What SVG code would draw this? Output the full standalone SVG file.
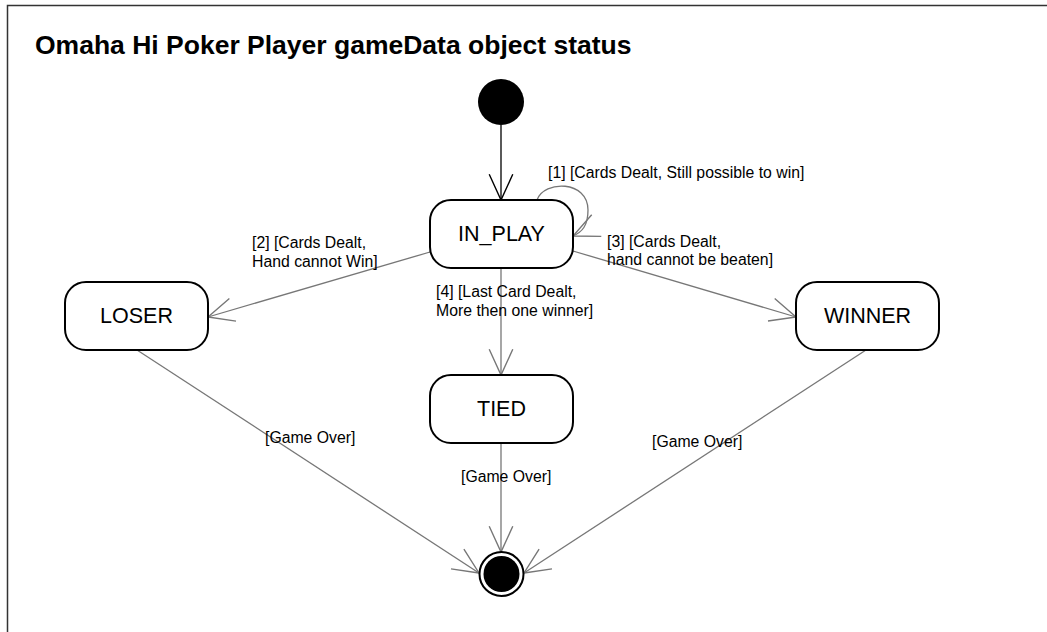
<svg xmlns="http://www.w3.org/2000/svg" width="1047" height="632" viewBox="0 0 1047 632">
<style>
.frame{fill:none;stroke:#333;stroke-width:1.5}
.title{font-family:"Liberation Sans",Arial,sans-serif;font-weight:bold;font-size:26.5px;fill:#000}
.state{fill:#fff;stroke:#000;stroke-width:2}
.stxt{font-family:"Liberation Sans",Arial,sans-serif;font-size:21.5px;fill:#000;text-anchor:middle}
.lbl{font-family:"Liberation Sans",Arial,sans-serif;font-size:15.8px;fill:#000}
.conn{fill:none;stroke:#777;stroke-width:1.3}
.conn0{fill:none;stroke:#000;stroke-width:1.3}
</style>
<defs>
<marker id="ag" markerUnits="userSpaceOnUse" markerWidth="30" markerHeight="30" refX="0" refY="0" viewBox="-26 -13 28 26" orient="auto" overflow="visible">
<path d="M-24,-11 L0,0 L-24,11" fill="none" stroke="#777" stroke-width="1.3"/>
</marker>
<marker id="ab" markerUnits="userSpaceOnUse" markerWidth="30" markerHeight="30" refX="0" refY="0" viewBox="-26 -13 28 26" orient="auto" overflow="visible">
<path d="M-24,-11 L0,0 L-24,11" fill="none" stroke="#000" stroke-width="1.3"/>
</marker>
</defs>
<rect width="1047" height="632" fill="#fff"/>
<path class="frame" d="M7.5,640 V5.5 H1050"/>
<text class="title" x="35" y="54">Omaha Hi Poker Player gameData object status</text>

<g id="connectors">
<line class="conn0" x1="501" y1="125" x2="501" y2="200" marker-end="url(#ab)"/>
<path class="conn" d="M537,200 C544,180 588,180 588,210 C588,226 582,232 573,236" marker-end="url(#ag)"/>
<line class="conn" x1="430" y1="252" x2="208" y2="317" marker-end="url(#ag)"/>
<line class="conn" x1="573" y1="251" x2="796" y2="317" marker-end="url(#ag)"/>
<line class="conn" x1="501" y1="268" x2="501" y2="375" marker-end="url(#ag)"/>
<line class="conn" x1="137" y1="350" x2="479" y2="573" marker-end="url(#ag)"/>
<line class="conn" x1="866" y1="350" x2="524" y2="573" marker-end="url(#ag)"/>
<line class="conn" x1="501" y1="443" x2="501" y2="552" marker-end="url(#ag)"/>
</g>

<g id="labels">
<text class="lbl" x="548" y="178">[1] [Cards Dealt, Still possible to win]</text>
<text class="lbl" x="607" y="247">[3] [Cards Dealt,</text>
<text class="lbl" x="607" y="265">hand cannot be beaten]</text>
<text class="lbl" x="252" y="248">[2] [Cards Dealt,</text>
<text class="lbl" x="252" y="267">Hand cannot Win]</text>
<text class="lbl" x="436" y="297">[4] [Last Card Dealt,</text>
<text class="lbl" x="436" y="316">More then one winner]</text>
<text class="lbl" x="265" y="443">[Game Over]</text>
<text class="lbl" x="461" y="482">[Game Over]</text>
<text class="lbl" x="652" y="447">[Game Over]</text>
</g>

<g id="initial">
<circle cx="501" cy="102" r="23" fill="#000"/>
</g>
<g id="in_play">
<rect class="state" x="430" y="200" width="143" height="68" rx="21" ry="21"/>
<text class="stxt" x="501.5" y="241">IN_PLAY</text>
</g>
<g id="loser">
<rect class="state" x="65" y="282" width="143" height="68" rx="21" ry="21"/>
<text class="stxt" x="136.5" y="323">LOSER</text>
</g>
<g id="winner">
<rect class="state" x="796" y="282" width="143" height="68" rx="21" ry="21"/>
<text class="stxt" x="867.5" y="323">WINNER</text>
</g>
<g id="tied">
<rect class="state" x="430" y="375" width="143" height="68" rx="21" ry="21"/>
<text class="stxt" x="501.5" y="416">TIED</text>
</g>
<g id="final">
<circle cx="501.5" cy="574" r="22" fill="#fff" stroke="#000" stroke-width="2"/>
<circle cx="501.5" cy="574" r="18" fill="#000"/>
</g>
</svg>
